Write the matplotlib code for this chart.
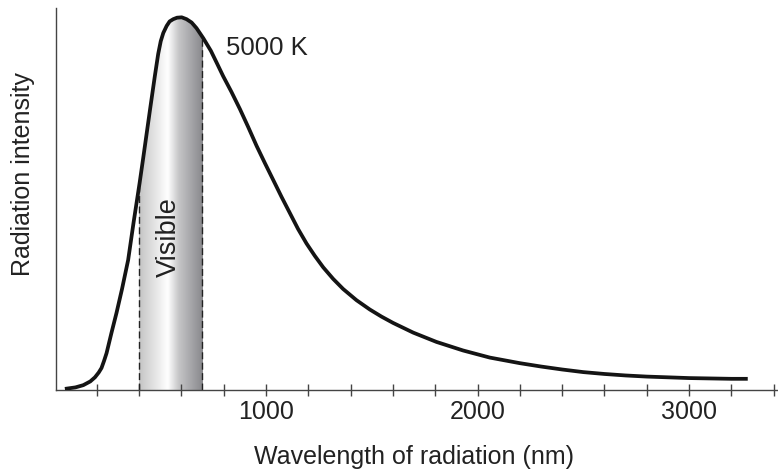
import matplotlib
matplotlib.use("Agg")
import matplotlib.pyplot as plt
import numpy as np
from matplotlib.colors import LinearSegmentedColormap
from matplotlib.ticker import MultipleLocator

plt.rcParams['font.family'] = ['Liberation Sans', 'DejaVu Sans']

# curve (relative intensity, peak = 100)
wavelength_nm = [50, 100, 137, 170, 192, 210, 223, 235, 247, 270, 294, 320, 349, 375,
                 403, 420, 452, 475, 491, 503, 515, 531, 545, 562, 580, 602, 625, 649,
                 672, 704, 740, 770, 798, 837, 877, 916, 956, 995, 1035, 1074, 1113,
                 1152, 1192, 1231, 1271, 1318, 1365, 1428, 1491, 1546, 1601, 1696, 1806,
                 1932, 2058, 2200, 2300, 2400, 2500, 2600, 2700, 2800, 2900, 3000, 3100,
                 3200, 3277]
intensity = [0.3, 0.7, 1.3, 2.3, 3.4, 4.7, 5.9, 7.8, 9.9, 15.3, 20.7, 27.1, 34.9, 45.1,
             55.5, 62.2, 75.1, 84.2, 90.2, 93.6, 95.8, 97.7, 98.9, 99.5, 99.9, 100.0, 99.5,
             98.6, 97.1, 94.4, 91.0, 87.5, 84.2, 80.0, 75.4, 70.6, 65.5, 60.9, 56.3, 51.8,
             47.5, 43.2, 39.3, 36.0, 32.9, 29.8, 27.1, 24.1, 21.6, 19.7, 18.0, 15.4, 12.9,
             10.6, 8.7, 7.2, 6.3, 5.5, 4.8, 4.3, 3.9, 3.6, 3.4, 3.2, 3.1, 3.0, 3.0]
visible_range = [400, 700]
major_ticks = [1000, 2000, 3000]
curve_label = "5000 K"

wl = np.array(wavelength_nm)
inten = np.array(intensity)

fig = plt.figure(figsize=(7.78, 4.75), dpi=100)
ax = fig.add_axes([56 / 778, 85 / 475, 722 / 778, 382 / 475])
ax.set_xlim(8, 3420)
ax.set_ylim(0, 102.5)

# shaded visible band, clipped to the area under the curve
shade = LinearSegmentedColormap.from_list(
    "band", [(0.0, "#c4c4c4"), (0.45, "#ffffff"), (0.62, "#c6c6c8"), (1.0, "#88888c")])
area = ax.fill_between(wl, 0, inten, color="none", lw=0)
grad = np.linspace(0, 1, 256).reshape(1, -1)
img = ax.imshow(grad, cmap=shade, aspect="auto", interpolation="bicubic",
                extent=(visible_range[0], visible_range[1], 0, 101), zorder=1)
img.set_clip_path(area.get_paths()[0], transform=ax.transData)

for edge in visible_range:
    ax.plot([edge, edge], [0, np.interp(edge, wl, inten)], color="#222222",
            lw=1.0, ls=(0, (5, 2.5)), zorder=2)

ax.plot(wl, inten, color="#141414", lw=2.7, solid_capstyle="butt",
        solid_joinstyle="round", zorder=3)

ax.text(540, 41, "Visible", rotation=90, ha="center", va="center",
        fontsize=19.5, color="#222222")
ax.text(811, 89.9, curve_label, ha="left", va="baseline", fontsize=18.5, color="#222222")

for side in ["top", "right"]:
    ax.spines[side].set_visible(False)
for side in ["left", "bottom"]:
    ax.spines[side].set_color("#444444")
    ax.spines[side].set_linewidth(1.0)

ax.set_yticks([])
ax.set_xticks(major_ticks)
ax.set_xticklabels([str(t) for t in major_ticks])
ax.xaxis.set_minor_locator(MultipleLocator(200))
ax.tick_params(axis="x", which="both", direction="inout", length=8, width=1.0,
               color="#444444", labelsize=18, labelcolor="#222222", pad=3)

fig.text(23 / 778, 1 - 174 / 475, "Radiation intensity", rotation=90,
         ha="center", va="center", fontsize=18, color="#222222")
fig.text(414 / 778, 1 - 457 / 475, "Wavelength of radiation (nm)",
         ha="center", va="center", fontsize=18, color="#222222")

fig.savefig("out.png", dpi=100)
